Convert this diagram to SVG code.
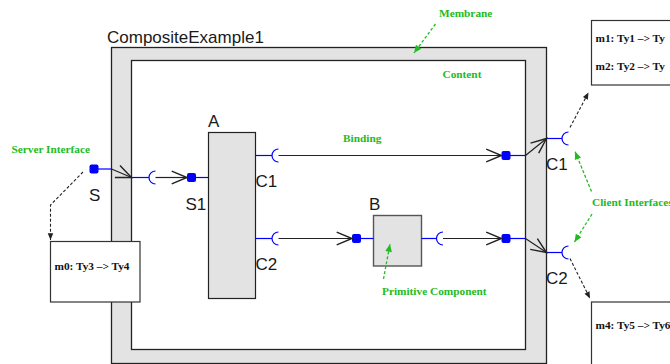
<svg xmlns="http://www.w3.org/2000/svg" width="670" height="364" viewBox="0 0 670 364">
<style>
.lbl{font-family:"Liberation Sans",Arial,sans-serif;font-size:17px;fill:#1a1a1a}
.gl{font-family:"Liberation Serif","Times New Roman",serif;font-weight:bold;font-size:11.3px;fill:#22bb22}
.nt{font-family:"Liberation Serif","Times New Roman",serif;font-weight:bold;font-size:11.3px;fill:#111}
.note{fill:#fff;stroke:#333;stroke-width:1.2}
.itf{stroke:#0000ff;stroke-width:1.2;fill:none}
.dot{fill:#0000ff}
.bind{stroke:#222;stroke-width:1.2;fill:none;marker-end:url(#open)}
.gd{stroke:#22bb22;stroke-width:1.3;stroke-dasharray:3,2;fill:none;marker-end:url(#garr)}
.kd{stroke:#222;stroke-width:1.1;stroke-dasharray:3,2;fill:none;marker-end:url(#karr)}
</style>
<defs>
<marker id="open" markerUnits="userSpaceOnUse" markerWidth="20" markerHeight="20" refX="0" refY="0" viewBox="-15 -8 17 16" orient="auto" overflow="visible">
<path d="M-13,-5.5 L0,0 L-13,5.5" fill="none" stroke="#222" stroke-width="1.2"/>
</marker>
<marker id="garr" markerUnits="userSpaceOnUse" markerWidth="10" markerHeight="10" refX="0" refY="0" viewBox="-8 -4 9 8" orient="auto" overflow="visible">
<path d="M-7,-3 L0,0 L-7,3 Z" fill="#22bb22"/>
</marker>
<marker id="karr" markerUnits="userSpaceOnUse" markerWidth="10" markerHeight="10" refX="0" refY="0" viewBox="-8 -4 9 8" orient="auto" overflow="visible">
<path d="M-6,-2.5 L0,0 L-6,2.5 Z" fill="#222"/>
</marker>
</defs>
<rect width="670" height="364" fill="#fff"/>

<g id="composite">
<rect x="111.5" y="47.5" width="435" height="316" fill="#e3e3e3" stroke="#222" stroke-width="1.3"/>
<rect x="131.5" y="60.5" width="394" height="289" fill="#fff" stroke="#222" stroke-width="1.3"/>
<text class="lbl" x="107" y="42.5">CompositeExample1</text>
</g>

<g id="A">
<rect x="208.5" y="132.5" width="47" height="166" fill="#e3e3e3" stroke="#222" stroke-width="1.2"/>
<text class="lbl" x="208" y="127">A</text>
</g>

<g id="B">
<rect x="373.5" y="215.5" width="48" height="50.5" fill="#e3e3e3" stroke="#555" stroke-width="1.4"/>
<text class="lbl" x="369" y="210">B</text>
</g>

<g id="interfaces">
<!-- S -->
<line class="itf" x1="94" y1="169" x2="111.5" y2="169"/>
<rect class="dot" x="89.5" y="164.5" width="9" height="9" rx="2"/>
<text class="lbl" x="89" y="201">S</text>
<!-- S internal socket -->
<line class="itf" x1="131.5" y1="177.5" x2="149" y2="177.5"/>
<path class="itf" d="M155.5,171 A6.5,6.5 0 0 0 155.5,184"/>
<!-- S1 -->
<line class="itf" x1="191.5" y1="177.5" x2="208.5" y2="177.5"/>
<rect class="dot" x="187" y="173" width="9" height="9" rx="2"/>
<text class="lbl" x="185.5" y="210">S1</text>
<!-- A C1 -->
<line class="itf" x1="255.5" y1="155.5" x2="272" y2="155.5"/>
<path class="itf" d="M278.5,149 A6.5,6.5 0 0 0 278.5,162"/>
<text class="lbl" x="255.5" y="187">C1</text>
<!-- A C2 -->
<line class="itf" x1="255.5" y1="238.5" x2="272" y2="238.5"/>
<path class="itf" d="M278.5,232 A6.5,6.5 0 0 0 278.5,245"/>
<text class="lbl" x="255.5" y="270">C2</text>
<!-- B S -->
<line class="itf" x1="356.5" y1="238.5" x2="373.5" y2="238.5"/>
<rect class="dot" x="352" y="234" width="9" height="9" rx="2"/>
<!-- B C -->
<line class="itf" x1="421.5" y1="238.5" x2="436.5" y2="238.5"/>
<path class="itf" d="M443,232 A6.5,6.5 0 0 0 443,245"/>
<!-- composite internal C1/C2 -->
<line class="itf" x1="506" y1="155.5" x2="525.5" y2="155.5"/>
<rect class="dot" x="501.5" y="151" width="9" height="9" rx="2"/>
<line class="itf" x1="506" y1="238.5" x2="525.5" y2="238.5"/>
<rect class="dot" x="501.5" y="234" width="9" height="9" rx="2"/>
<!-- composite external C1/C2 -->
<line class="itf" x1="546.5" y1="138.5" x2="562" y2="138.5"/>
<path class="itf" d="M568.5,132 A6.5,6.5 0 0 0 568.5,145"/>
<text class="lbl" x="546" y="170">C1</text>
<line class="itf" x1="546.5" y1="252.5" x2="562" y2="252.5"/>
<path class="itf" d="M568.5,246 A6.5,6.5 0 0 0 568.5,259"/>
<text class="lbl" x="546" y="283.5">C2</text>
</g>

<g id="connectors">
<line class="bind" x1="111.5" y1="169" x2="131.5" y2="177.5"/>
<line class="bind" x1="155.5" y1="177.5" x2="187" y2="177.5"/>
<line class="bind" x1="278.5" y1="155.5" x2="501.5" y2="155.5"/>
<line class="bind" x1="278.5" y1="238.5" x2="352" y2="238.5"/>
<line class="bind" x1="443" y1="238.5" x2="501.5" y2="238.5"/>
<line class="bind" x1="525.5" y1="155.5" x2="546.5" y2="138.5"/>
<line class="bind" x1="525.5" y1="238.5" x2="546.5" y2="252.5"/>
<polyline class="kd" points="83,172 50.5,205 50.5,240"/>
<line class="kd" x1="570" y1="127.5" x2="588.5" y2="92.5"/>
<line class="kd" x1="570" y1="258.5" x2="590" y2="298.5"/>
<line class="gd" x1="435.5" y1="24" x2="414" y2="53"/>
<line class="gd" x1="383.5" y1="279" x2="390" y2="244"/>
<line class="gd" x1="591.5" y1="191.5" x2="575" y2="151.5"/>
<line class="gd" x1="592" y1="214" x2="574.5" y2="242"/>
</g>

<g id="note-m0">
<rect class="note" x="50.5" y="241.5" width="89.5" height="60.5"/>
<text class="nt" x="54.5" y="270">m0: Ty3 –&gt; Ty4</text>
</g>
<g id="note-m1">
<rect class="note" x="591.5" y="20.5" width="100" height="64.5"/>
<text class="nt" x="595.5" y="41.5">m1: Ty1 –&gt; Ty</text>
<text class="nt" x="595.5" y="70">m2: Ty2 –&gt; Ty</text>
</g>
<g id="note-m4">
<rect class="note" x="591.5" y="302" width="100" height="80"/>
<text class="nt" x="595.5" y="328.5">m4: Ty5 –&gt; Ty6</text>
</g>

<g id="annotations">
<text class="gl" x="11.5" y="152.5">Server Interface</text>
<text class="gl" x="439" y="16.5">Membrane</text>
<text class="gl" x="442.5" y="77.5">Content</text>
<text class="gl" x="343" y="141.5">Binding</text>
<text class="gl" x="382" y="294.5">Primitive Component</text>
<text class="gl" x="592" y="206">Client Interfaces</text>
</g>
</svg>
